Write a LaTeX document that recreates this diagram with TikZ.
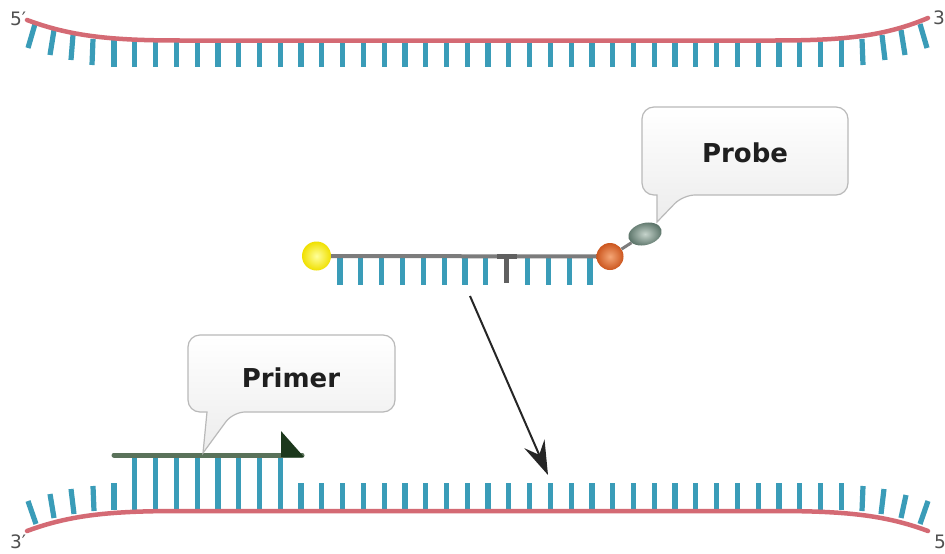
\documentclass[tikz,border=0pt]{standalone}
\usepackage{fontspec}
\setmainfont{DejaVu Sans}
\usetikzlibrary{arrows.meta,shapes.geometric}
\definecolor{basecol}{HTML}{3A9CB8}
\definecolor{spine}{HTML}{D46A74}
\definecolor{probegray}{HTML}{7C7C7C}
\definecolor{tgray}{HTML}{606060}
\definecolor{primergreen}{HTML}{5A725A}
\definecolor{primertip}{HTML}{1C381C}
\definecolor{endlabel}{HTML}{505050}
\definecolor{yelin}{HTML}{FFFF9A}
\definecolor{yelout}{HTML}{F0E000}
\definecolor{orin}{HTML}{F4A676}
\definecolor{orout}{HTML}{CC561E}
\definecolor{qin}{HTML}{C6D4CC}
\definecolor{qout}{HTML}{566F64}
\begin{document}
\begin{tikzpicture}[x=1pt,y=-1pt,
  base/.style={draw=basecol,line width=5.2pt},
  spinestyle/.style={draw=spine,line width=4.5pt,line cap=round},
  callout/.style={draw=gray!55,line width=1.2pt,top color=white,bottom color=gray!15,rounded corners=12pt},
  calltext/.style={font=\fontsize{26}{30}\selectfont\bfseries,text=black!88,inner sep=0pt},
  endtag/.style={font=\fontsize{18.5}{21}\selectfont,text=endlabel,inner sep=0pt,anchor=base west},
  probeline/.style={draw=probegray,line width=4pt},
  ballstyle/.style={circle,inner sep=0pt}
]
\useasboundingbox (0,0) rectangle (945,554);
\fill[white] (0,0) rectangle (945,554);

% ---------- upper template strand ----------
\foreach \tx/\ty/\bx/\by in {35/24/28/48, 54/30/50/55, 73/35/71/60, 93/39/92/65,
                             862/39/863/65, 882/35/885/60, 901/30/905/55, 920/24/927/48}
  \draw[base] (\tx,\ty) -- (\bx,\by);
\foreach \k in {0,...,35}{
  \pgfmathsetmacro\px{114+20.78*\k}
  \draw[base] (\px,40) -- (\px,67);
}
\draw[spinestyle] (27,20) .. controls (70,36) and (110,40.5) .. (180,40.5)
  -- (775,40.5) .. controls (845,40.5) and (885,36) .. (928,18);

% ---------- lower template strand ----------
\foreach \tx/\ty/\bx/\by in {28/501/36/524, 50/494/54/518, 71/489/74/514, 93/486/94/511,
                             863/486/862/511, 884/489/881/514, 906/495/901/518, 928/501/920/524}
  \draw[base] (\tx,\ty) -- (\bx,\by);
\foreach \k in {0,9,10,...,35}{
  \pgfmathsetmacro\px{114+20.78*\k}
  \draw[base] (\px,483) -- (\px,510);
}
% primer bases reaching the template
\foreach \k in {1,...,8}{
  \pgfmathsetmacro\px{114+20.78*\k}
  \draw[base] (\px,457) -- (\px,510);
}
\draw[spinestyle] (27,531) .. controls (70,515) and (110,511) .. (180,511)
  -- (775,511) .. controls (845,511) and (885,515) .. (928,531);

% strand end labels
\node[endtag] (fiveA) at (10,25) {5′};
\node[endtag] (threeA) at (933,24) {3′};
\node[endtag] (threeB) at (10,548) {3′};
\node[endtag] (fiveB) at (934,548) {5′};

% ---------- primer ----------
\draw[draw=primergreen,line width=5pt,line cap=round] (114,455) -- (302,455);
\fill[primertip] (281,431) -- (281,457) -- (304,457) -- cycle;

% ---------- probe ----------
\foreach \j in {0,...,7,9,10,11,12}{
  \pgfmathsetmacro\px{340+20.83*\j}
  \draw[base] (\px,256) -- (\px,285);
}
\draw[draw=tgray,line width=5pt] (506.6,256) -- (506.6,283);
\node[ballstyle,minimum size=29pt,inner color=yelin,outer color=yelout] (dye) at (316.5,256) {};
\node[ballstyle,minimum size=27pt,inner color=orin,outer color=orout] (quench) at (610,256.5) {};
\node[ellipse,inner sep=0pt,minimum width=34pt,minimum height=22pt,rotate=15,
      inner color=qin,outer color=qout] (tail) at (645,234) {};
\draw[probeline] (dye) -- (quench);
\fill[tgray] (497,253.5) rectangle (517,259);
\draw[draw=probegray,line width=3pt] (quench) -- (tail);

% ---------- arrow from probe to target ----------
\coordinate (arrowfrom) at (470,296);
\coordinate (arrowto) at (548,475);
\draw[draw=black!85,line width=2pt,-{Stealth[length=34pt,width=22pt,inset=12pt]}] (arrowfrom) -- (arrowto);

% ---------- callouts ----------
\path[callout] (745,107) -- (848,107) -- (848,195) -- (683,195) [sharp corners] -- (657,222)
  -- (657,195) [rounded corners=12pt] -- (642,195) -- (642,107) -- cycle;
\node[calltext] (probelabel) at (745,153) {Probe};

\path[callout] (290,335) -- (395,335) -- (395,412) -- (233,412) [sharp corners] -- (203,453)
  -- (207,412) [rounded corners=12pt] -- (188,412) -- (188,335) -- cycle;
\node[calltext] (primerlabel) at (291,378) {Primer};
\end{tikzpicture}
\end{document}
